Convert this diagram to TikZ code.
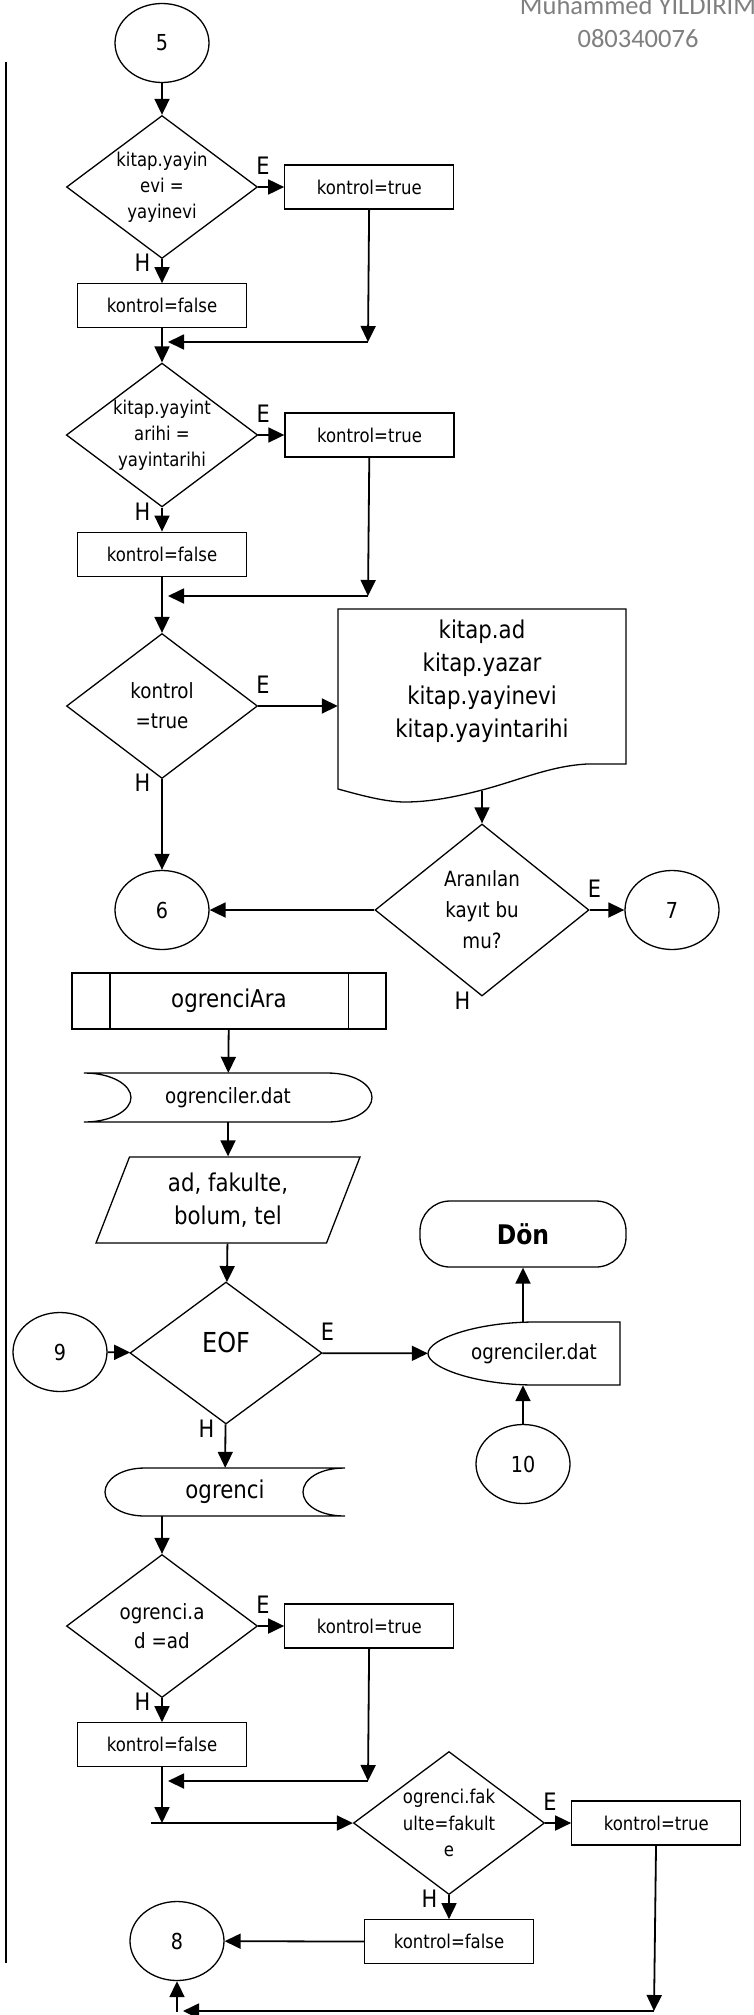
\documentclass[tikz,border=0pt]{standalone}
\usepackage{fontspec}
\setmainfont{DejaVu Sans}[FakeStretch=0.87]
\newfontfamily\headfont{Carlito}
\usepackage{xcolor}
\usetikzlibrary{arrows.meta,positioning,shapes.geometric}
\definecolor{headgray}{RGB}{127,127,127}
\newcommand{\fsmall}{\fontsize{19}{26}\selectfont}
\newcommand{\fmid}{\fontsize{21}{30}\selectfont}
\newcommand{\fbig}{\fontsize{24.5}{33}\selectfont}
\newcommand{\flabel}{\fontsize{24}{28}\selectfont}
\tikzset{
  shape line/.style={draw, line width=1.3pt},
  process/.style={
    shape line,
    rectangle,
    minimum width=169pt,
    minimum height=44pt,
    inner sep=0pt,
    font=\fsmall
  },
  decision/.style={
    shape line,
    diamond,
    aspect=1.33,
    minimum width=191pt,
    minimum height=143pt,
    inner sep=0pt,
    align=center,
    font=\fsmall
  },
  connector/.style={
    shape line,
    ellipse,
    minimum width=94pt,
    minimum height=79pt,
    inner sep=0pt,
    font=\fontsize{22}{26}\selectfont
  },
  document/.style={
    rectangle,
    minimum width=288pt,
    inner sep=0pt,
    align=center,
    font=\fbig
  },
  storage/.style={
    rectangle,
    inner sep=0pt,
    font=\fmid
  },
  subproc/.style={
    shape line,
    rectangle,
    minimum width=314pt,
    minimum height=56pt,
    inner sep=0pt,
    font=\fbig
  },
  io/.style={
    shape line,
    trapezium,
    trapezium left angle=58.4,
    trapezium right angle=121.6,
    trapezium stretches body,
    minimum width=264pt,
    minimum height=86pt,
    inner sep=0pt,
    align=center,
    font=\fbig
  },
  terminal/.style={
    shape line,
    rectangle,
    rounded corners=30pt,
    minimum width=206pt,
    minimum height=66pt,
    font=\fontsize{27}{33}\selectfont\bfseries
  },
  head/.style={font=\headfont\fontsize{26.5}{32}\selectfont, text=headgray, inner sep=0pt, anchor=base},
  evet/.style={font=\flabel, inner sep=0pt, anchor=south west, xshift=-2pt, yshift=12pt},
  hayir/.style={font=\flabel, inner sep=0pt, anchor=east, xshift=-11.5pt, yshift=-4pt},
  flow/.style={line width=1.8pt, -{Triangle[length=16pt,width=15pt]}}
}
\begin{document}
\begin{tikzpicture}[x=1pt, y=-1pt]
  \useasboundingbox (0,0) rectangle (754,2015);

  \node[head] (isim) at (638,15) {Muhammed YILDIRIM};
  \node[head] (numara) at (638,48) {080340076};
  \draw[line width=2pt] (6,62) -- (6,1963);

  \node[connector] (c5) at (162,43) {5};
  \node[decision] (yayinevi) at (162,187) {kitap.yayin\\evi =\\yayinevi};
  \node[process, right=26pt of yayinevi] (yayinevitrue) {kontrol=true};
  \node[process, below=24pt of yayinevi] (yayinevifalse) {kontrol=false};
  \coordinate (mergeA) at (368,342);
  \coordinate (mergeAend) at (168,342);

  \node[decision] (yayintarihi) at (162,435) {kitap.yayint\\arihi =\\yayintarihi};
  \node[process, right=26pt of yayintarihi] (yayintarihitrue) {kontrol=true};
  \node[process, below=24pt of yayintarihi] (yayintarihifalse) {kontrol=false};
  \coordinate (mergeB) at (368,596);
  \coordinate (mergeBend) at (168,596);

  \node[decision, font=\fmid, minimum height=145pt] (kontrol) at (162,706) {kontrol\\=true};
  \node[document] (liste) at (482,681) {kitap.ad\\kitap.yazar\\kitap.yayinevi\\kitap.yayintarihi};
  \draw[shape line] (338,609) -- (626,609) -- (626,764) -- (587,764)
    .. controls (550,766) and (520,780) .. (482,790)
    .. controls (455,797) and (430,802) .. (405,802)
    .. controls (385,802) and (360,795) .. (338,789) -- cycle;
  \coordinate (listeout) at (482,791);
  \node[decision, font=\fontsize{21}{31}\selectfont, minimum width=214pt, minimum height=172pt] (aranan) at (482,910) {Aranılan\\kayıt bu\\mu?};
  \node[connector] (c6) at (162,910) {6};
  \node[connector] (c7) at (672,910) {7};

  \node[subproc] (ogrenciAra) at (229,1001) {ogrenciAra};
  \draw[shape line] ([xshift=38.5pt]ogrenciAra.north west) -- ([xshift=38.5pt]ogrenciAra.south west);
  \draw[shape line] ([xshift=-38.5pt]ogrenciAra.north east) -- ([xshift=-38.5pt]ogrenciAra.south east);
  \node[storage, minimum width=288pt, minimum height=49pt] (dosya) at (228,1097.5) {ogrenciler.dat};
  \draw[shape line] (84,1073) -- (327,1073)
    .. controls (355,1073) and (372,1085) .. (372,1097.5)
    .. controls (372,1110) and (355,1122) .. (327,1122) -- (84,1122)
    .. controls (112,1122) and (131,1110) .. (131,1097.5)
    .. controls (131,1085) and (112,1073) .. (84,1073) -- cycle;
  \node[io] (girdi) at (228,1200) {ad, fakulte,\\bolum, tel};
  \node[decision, font=\fontsize{27.5}{33}\selectfont, minimum width=192pt, minimum height=142pt] (eof) at (226,1353) {\raisebox{11pt}[\height][\depth]{EOF}};
  \node[connector] (c9) at (60,1352) {9};

  \node[storage, minimum width=212pt, minimum height=63pt] (dosyakapat) at (534,1353.5) {ogrenciler.dat};
  \draw[shape line] (620,1322) -- (620,1385) -- (535,1385)
    .. controls (476,1385) and (428,1367.6) .. (428,1353.5)
    .. controls (428,1339.4) and (476,1322) .. (535,1322) -- cycle;
  \node[terminal] (don) at (523,1234) {Dön};
  \node[connector] (c10) at (523,1464) {10};

  \node[storage, font=\fbig, minimum width=240pt, minimum height=48pt] (ogrenci) at (225,1492) {ogrenci};
  \draw[shape line] (345,1468) -- (145,1468)
    .. controls (120,1468) and (105,1480) .. (105,1492)
    .. controls (105,1504) and (120,1516) .. (145,1516) -- (345,1516)
    .. controls (318,1516) and (303,1504) .. (303,1492)
    .. controls (303,1480) and (318,1468) .. (345,1468);

  \node[decision, font=\fontsize{21}{29}\selectfont] (adchk) at (162,1626) {ogrenci.a\\d =ad};
  \node[process, right=26pt of adchk] (adtrue) {kontrol=true};
  \node[process, below=24pt of adchk] (adfalse) {kontrol=false};
  \coordinate (mergeC) at (368,1781);
  \coordinate (mergeCend) at (168,1781);
  \coordinate (joinC) at (162,1823);
  \coordinate (joinCstart) at (151,1823);

  \node[decision, font=\fontsize{19}{26.5}\selectfont] (fakchk) at (449,1823) {ogrenci.fak\\ulte=fakult\\e};
  \node[process, right=26pt of fakchk] (faktrue) {kontrol=true};
  \node[process, below=24pt of fakchk] (fakfalse) {kontrol=false};
  \node[connector] (c8) at (177,1941) {8};
  \coordinate (mergeD) at (654,2011);
  \coordinate (mergeDend) at (183,2011);
  \coordinate (mergeDup) at (177,2012);

  \node[evet] (yayinevi-E) at (yayinevi.east) {E};
  \node[hayir] (yayinevi-H) at (yayinevi.south) {H};
  \node[evet] (yayintarihi-E) at (yayintarihi.east) {E};
  \node[hayir] (yayintarihi-H) at (yayintarihi.south) {H};
  \node[evet] (kontrol-E) at (kontrol.east) {E};
  \node[hayir] (kontrol-H) at (kontrol.south) {H};
  \node[evet] (aranan-E) at (aranan.east) {E};
  \node[hayir] (aranan-H) at (aranan.south) {H};
  \node[evet] (eof-E) at (eof.east) {E};
  \node[hayir] (eof-H) at (eof.south) {H};
  \node[evet] (adchk-E) at (adchk.east) {E};
  \node[hayir] (adchk-H) at (adchk.south) {H};
  \node[evet] (fakchk-E) at (fakchk.east) {E};
  \node[hayir] (fakchk-H) at (fakchk.south) {H};

  \draw[flow] (c5) -- (yayinevi);
  \draw[flow] (yayinevi) -- (yayinevitrue);
  \draw[flow] (yayinevi) -- (yayinevifalse);
  \draw[flow] (yayinevitrue) -- (mergeA);
  \draw[flow] (mergeA) -- (mergeAend);
  \draw[flow] (yayinevifalse) -- (yayintarihi);
  \draw[flow] (yayintarihi) -- (yayintarihitrue);
  \draw[flow] (yayintarihi) -- (yayintarihifalse);
  \draw[flow] (yayintarihitrue) -- (mergeB);
  \draw[flow] (mergeB) -- (mergeBend);
  \draw[flow] (yayintarihifalse) -- (kontrol);
  \draw[flow] (kontrol) -- (kontrol -| liste.west);
  \draw[flow] (kontrol) -- (c6);
  \draw[flow] (listeout) -- (aranan);
  \draw[flow] (aranan) -- (c6);
  \draw[flow] (aranan) -- (c7);

  \draw[flow] (ogrenciAra) -- (dosya);
  \draw[flow] (dosya) -- (girdi);
  \draw[flow] (girdi) -- (eof);
  \draw[flow] (c9) -- (eof);
  \draw[flow] (eof) -- (dosyakapat);
  \draw[flow] (don |- dosyakapat.north) -- (don);
  \draw[flow] (c10) -- (c10 |- dosyakapat.south);
  \draw[flow] (eof) -- (ogrenci);
  \draw[flow] (ogrenci.south -| adchk.north) -- (adchk);
  \draw[flow] (adchk) -- (adtrue);
  \draw[flow] (adchk) -- (adfalse);
  \draw[flow] (adtrue) -- (mergeC);
  \draw[flow] (mergeC) -- (mergeCend);
  \draw[flow] (adfalse) -- (joinC);
  \draw[flow] (joinCstart) -- (fakchk);
  \draw[flow] (fakchk) -- (faktrue);
  \draw[flow] (fakchk) -- (fakfalse);
  \draw[flow] (fakfalse) -- (c8);
  \draw[flow] (faktrue) -- (mergeD);
  \draw[flow] (mergeD) -- (mergeDend);
  \draw[flow] (mergeDup) -- (c8);
\end{tikzpicture}
\end{document}
